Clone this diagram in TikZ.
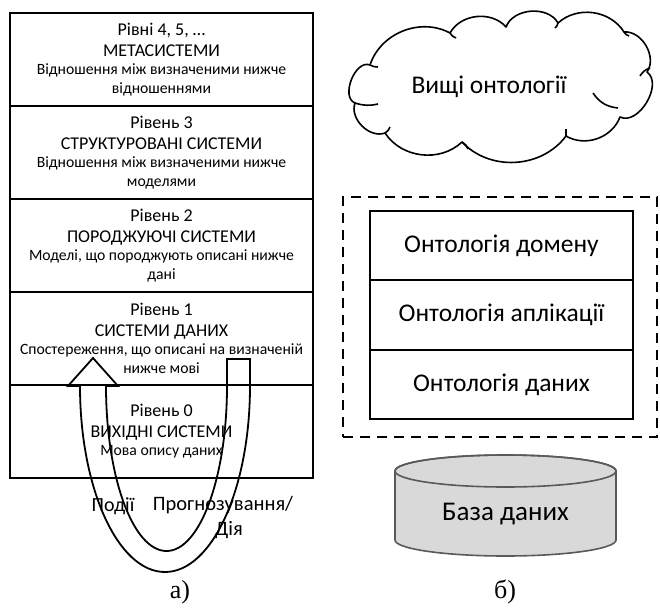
\documentclass[tikz,border=0pt]{standalone}
\usepackage{fontspec}
\setmainfont{Carlito}
\newfontfamily\capfont{Liberation Serif}
\usepackage{tikz}
\usetikzlibrary{positioning}

\newcommand{\lvtitle}{\fontsize{18}{20.5}\selectfont}
\newcommand{\lvnote}{\fontsize{15.7}{18.5}\selectfont}
\newcommand{\ontofont}{\fontsize{25.5}{30}\selectfont}

\tikzset{
  level/.style={draw, line width=2.4pt, minimum width=303pt, minimum height=93pt,
    text width=293pt, align=flush center, inner sep=0pt, outer sep=0pt, font=\lvtitle},
  onto/.style={draw, line width=2pt, minimum width=263pt, minimum height=69.5pt,
    inner sep=0pt, outer sep=0pt, font=\ontofont},
  caption/.style={font=\capfont\fontsize{26}{30}\selectfont},
  puff/.style={line width=1.6pt, line join=round}
}

\begin{document}
\begin{tikzpicture}[x=1pt,y=-1pt]
    \useasboundingbox (0,0) rectangle (660,613);

    % a) levels
    \node[level] (lvl4) at (161.5,59.5)
        {Рівні 4, 5, …\\МЕТАСИСТЕМИ\\{\lvnote Відношення між визначеними нижче відношеннями\par}};
    \node[level, below=0pt of lvl4] (lvl3)
        {Рівень 3\\СТРУКТУРОВАНІ СИСТЕМИ\\{\lvnote Відношення між визначеними нижче моделями\par}};
    \node[level, below=0pt of lvl3] (lvl2)
        {Рівень 2\\ПОРОДЖУЮЧІ СИСТЕМИ\\{\lvnote Моделі, що породжують описані нижче дані\par}};
    \node[level, below=0pt of lvl2] (lvl1)
        {Рівень 1\\СИСТЕМИ ДАНИХ\\{\lvnote Спостереження, що описані на визначеній нижче мові\par}};
    \node[level, below=0pt of lvl1] (lvl0)
        {Рівень 0\\ВИХІДНІ СИСТЕМИ\\{\lvnote Мова опису даних\par}};

    % u-turn arrow
    \draw[line width=1.8pt, line join=miter] (250,359) -- (250,386)
        arc[start angle=0, end angle=180, x radius=85, y radius=186]
        -- (68,386) -- (93,358) -- (118,386) -- (106,386)
        arc[start angle=180, end angle=0, x radius=60.5, y radius=165]
        -- (227,359) -- cycle;

    \node[font=\fontsize{20}{25}\selectfont] (events) at (113,506) {Події};
    \node[font=\fontsize{20.5}{25}\selectfont, align=center] (forecast) at (223,517)
        {Прогнозування/\\\hspace*{12pt}Дія};

    \node[caption] (capa) at (180,592) {а)};

    % b) ontologies
    \draw[puff] (355,103) to[bend left=90] (370,65) to[bend left=50] (450,33)
        to[bend left=55] (506,27) to[bend left=65] (558,23)
        to[bend left=50] (624,32) to[bend left=65] (647,72)
        to[bend left=85] (620,117) to[bend left=50] (566,136)
        to[bend left=50] (462,142) to[bend left=50] (385,133)
        to[bend left=65] cycle;
    \draw[puff] (355,103) to[bend right=15] (378,104);
    \draw[puff] (370,65) to[bend right=15] (378,67);
    \draw[puff] (450,33) to[bend right=20] (456,38);
    \draw[puff] (558,23) to[bend left=20] (555,28);
    \draw[puff] (624,32) to[bend right=20] (629,36);
    \draw[puff] (640,76) to[bend left=20] (650,68);
    \draw[puff] (593,93) to[bend right=25] (618,108);
    \draw[puff] (566,129) to[bend right=10] (566,136);
    \draw[puff] (462,142) to[bend left=20] (468,149);
    \draw[puff] (385,133) to[bend right=20] (390,127);
    \node[font=\ontofont] (upper) at (489,87) {Вищі онтології};

    \node[draw, dashed, line width=2.4pt, dash pattern=on 10pt off 7pt,
        minimum width=314pt, minimum height=240pt] (scope) at (500,317) {};

    \node[onto] (domain) at (501.5,245.5) {Онтологія домену};
    \node[onto, below=0pt of domain] (appl) {Онтологія аплікації};
    \node[onto, below=0pt of appl] (data) {Онтологія даних};

    % database
    \filldraw[fill=black!15, draw=black!65, line width=1.6pt]
        (395,471) -- (395,540)
        arc[start angle=180, end angle=0, x radius=110.5, y radius=16]
        -- (616,471)
        arc[start angle=0, end angle=-180, x radius=110.5, y radius=16] -- cycle;
    \draw[draw=black!65, line width=1.6pt] (505.5,471) ellipse[x radius=110.5, y radius=16];
    \node[font=\fontsize{27}{30}\selectfont] (db) at (505.5,514) {База даних};

    \node[caption] (capb) at (505,592) {б)};
\end{tikzpicture}
\end{document}
